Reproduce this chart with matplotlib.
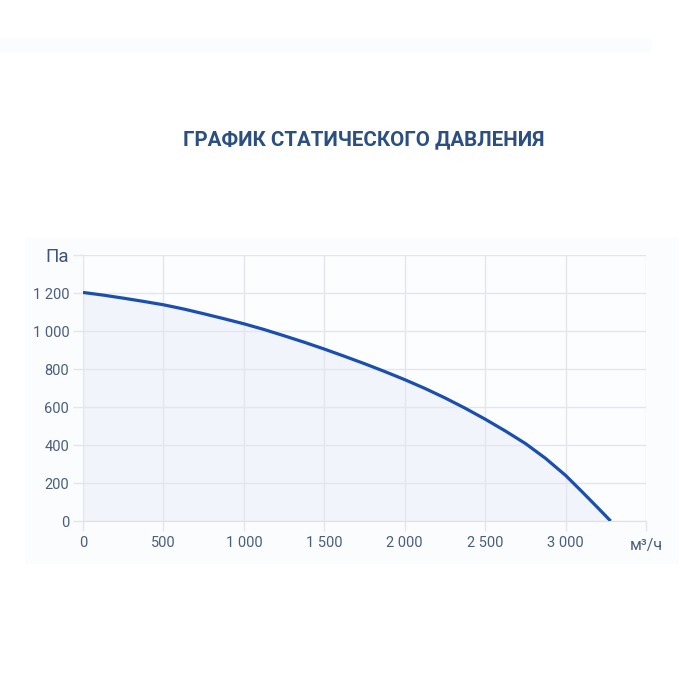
import matplotlib
matplotlib.use("Agg")
import matplotlib.pyplot as plt
from matplotlib.patches import Rectangle

plt.rcParams['font.family'] = ['Roboto', 'DejaVu Sans']

# Data
flow = [0, 125, 250, 375, 500, 625, 750, 875, 1000, 1125, 1250, 1375, 1500, 1625,
        1750, 1875, 2000, 2125, 2250, 2375, 2500, 2625, 2750, 2875, 3000, 3100, 3200, 3280]
pressure = [1203, 1189, 1173, 1156, 1138, 1116, 1091, 1065, 1038, 1008, 975, 941, 905, 867,
            828, 787, 744, 698, 648, 594, 536, 474, 408, 330, 240, 156, 70, 0]
x_ticks = [0, 500, 1000, 1500, 2000, 2500, 3000, 3500]
x_labels = ["0", "500", "1 000", "1 500", "2 000", "2 500", "3 000", ""]
y_ticks = [0, 200, 400, 600, 800, 1000, 1200, 1400]
y_labels = ["0", "200", "400", "600", "800", "1 000", "1 200", "Па"]
title = "ГРАФИК СТАТИЧЕСКОГО ДАВЛЕНИЯ"
x_unit = "м³/ч"

line_color = "#1a4fb0"
fill_color = "#f1f5fb"
grid_color = "#e3e6ec"
text_color = "#4a5e7e"
title_color = "#2b4f80"

fig = plt.figure(figsize=(7, 7), dpi=100)
fig.patch.set_facecolor("white")
# faint background panels
fig.patches.append(Rectangle((0.035, 0.195), 0.935, 0.465, transform=fig.transFigure,
                             facecolor="#fbfcfe", edgecolor="none", zorder=-10))
fig.patches.append(Rectangle((0.0, 0.925), 0.93, 0.02, transform=fig.transFigure,
                             facecolor="#fbfcfe", edgecolor="none", zorder=-10))

ax = fig.add_axes([0.1186, 0.2557, 0.8043, 0.38])
ax.set_zorder(5)
ax.set_facecolor("#fcfdff")
ax.set_xlim(0, 3500)
ax.set_ylim(0, 1400)

ax.fill_between(flow, pressure, 0, color=fill_color, zorder=1)
ax.plot(flow, pressure, color=line_color, lw=2.3, solid_capstyle="butt",
        solid_joinstyle="round", zorder=3)

ax.set_xticks(x_ticks)
ax.set_xticklabels(x_labels)
ax.set_yticks(y_ticks)
ax.set_yticklabels(y_labels)

ax.grid(True, color=grid_color, lw=1.0, zorder=0)
for s in ax.spines.values():
    s.set_visible(False)
ax.spines['bottom'].set_visible(True)
ax.spines['bottom'].set_color("#dde1e8")
ax.spines['left'].set_visible(True)
ax.spines['left'].set_color("#e3e6ec")

ax.tick_params(axis='both', colors=grid_color, length=7, width=1.0,
               labelcolor=text_color, labelsize=10.5)
ax.tick_params(axis='y', pad=3)
ax.tick_params(axis='x', pad=4)

for lbl in ax.get_yticklabels():
    if lbl.get_text() == "Па":
        lbl.set_fontsize(13.5)
        lbl.set_color("#3e5478")

fig.text(0.9, 0.221, x_unit, ha="left", va="center", fontsize=11.5, color=text_color, zorder=6)

fig.text(0.519, 0.8, title, ha="center", va="center", fontsize=14.8,
         fontweight="bold", color=title_color)

fig.savefig("out.png", dpi=100, facecolor="white")
